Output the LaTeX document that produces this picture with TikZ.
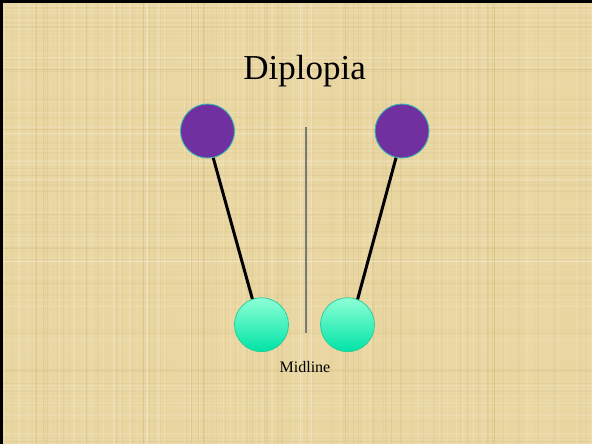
\documentclass[tikz,border=0pt]{standalone}
\usepackage{fontspec}
\setmainfont{Liberation Serif}
\definecolor{paper}{HTML}{E9D6A1}
\definecolor{paperdark}{HTML}{C4A86A}
\definecolor{eyepurple}{HTML}{7030A0}
\definecolor{eyeedge}{HTML}{33B8B0}
\definecolor{imgtop}{HTML}{8EFFD6}
\definecolor{imgbot}{HTML}{00E3A6}
\definecolor{imgedge}{HTML}{22CC99}
\tikzset{
  eye/.style={circle, minimum size=54pt, inner sep=0pt, fill=eyepurple, draw=eyeedge, line width=0.9pt},
  image/.style={circle, minimum size=54pt, inner sep=0pt, top color=imgtop, bottom color=imgbot, draw=imgedge, line width=0.7pt},
  muscle/.style={line width=3pt, black},
  mid/.style={line width=1.8pt, draw=gray!95!black},
  label/.style={font=\fontsize{16}{18}\selectfont, anchor=base, inner sep=0pt},
  titlefont/.style={font=\fontsize{35}{40}\selectfont, anchor=base, inner sep=0pt}
}
\begin{document}
\begin{tikzpicture}[x=1pt, y=-1pt]
\useasboundingbox (0,0) rectangle (592,444);
% background paper
\fill[paper] (0,0) rectangle (592,444);
\pgfmathsetseed{7}
\foreach \i in {1,...,220}{
  \pgfmathsetmacro\xx{592*rnd}
  \pgfmathsetmacro\op{0.05+0.15*rnd}
  \pgfmathsetmacro\ww{0.3+0.9*rnd}
  \pgfmathparse{rnd>0.5?1:0}
  \ifnum\pgfmathresult=1
    \draw[white, opacity=\op, line width=\ww pt] (\xx,0) -- (\xx,444);
  \else
    \draw[paperdark, opacity=\op, line width=\ww pt] (\xx,0) -- (\xx,444);
  \fi
}
\foreach \i in {1,...,170}{
  \pgfmathsetmacro\yy{444*rnd}
  \pgfmathsetmacro\op{0.04+0.12*rnd}
  \pgfmathsetmacro\ww{0.3+0.8*rnd}
  \pgfmathparse{rnd>0.5?1:0}
  \ifnum\pgfmathresult=1
    \draw[white, opacity=\op, line width=\ww pt] (0,\yy) -- (592,\yy);
  \else
    \draw[paperdark, opacity=\op, line width=\ww pt] (0,\yy) -- (592,\yy);
  \fi
}
% frame (top and left)
\fill[black] (0,0) rectangle (592,3);
\fill[black] (0,0) rectangle (2.5,444);

% title
\node[titlefont] (title) at (304.7,80) {Diplopia};

% midline
\coordinate (mtop) at (305.7,127);
\coordinate (mbot) at (305.7,333);
\draw[mid] (mtop) -- (mbot);

% nodes (positions)
\coordinate (plc) at (207.5,131);
\coordinate (prc) at (402,131);
\coordinate (tlc) at (261.5,324.7);
\coordinate (trc) at (347.5,324.7);

% muscles behind circles
\draw[muscle] ([xshift=-1.7pt]plc) -- ([xshift=-2pt]tlc);
\draw[muscle] ([xshift=1.3pt]prc) -- ([xshift=3.2pt]trc);

\node[eye] (pl) at (plc) {};
\node[eye] (pr) at (prc) {};
\node[image] (tl) at (tlc) {};
\node[image] (tr) at (trc) {};

\node[label] (midlabel) at (305,372.7) {Midline};
\end{tikzpicture}
\end{document}
